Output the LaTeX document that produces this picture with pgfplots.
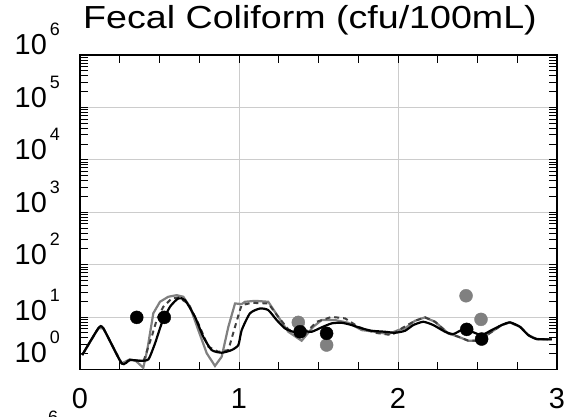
\documentclass[border=0pt]{standalone}
\usepackage{pgfplots}
\pgfplotsset{compat=1.18}
\usepackage{fontspec}
\setmainfont{Liberation Sans}
\newcommand\tp[1]{10\hspace{3bp}\raisebox{19bp}{\fontsize{18}{18}\selectfont #1}}
\begin{document}
\begin{tikzpicture}
\begin{axis}[
  scale only axis, width=477bp, height=314.5bp,
  xmin=0, xmax=3, ymin=1, ymax=1e6, ymode=log,
  xtick={0,1,2,3}, minor x tick num=3,
  xticklabels={0,1,2,3},
  ytick={1,10,100,1000,10000,100000,1000000},
  yticklabels={\raisebox{7bp}{\tp{0}},\raisebox{-3bp}{\tp{1}},\tp{2},\tp{3},\tp{4},\tp{5},\tp{6}},
  grid=major, major grid style={black!20, line width=0.8bp},
  axis line style={line width=1.2bp},
  tick style={black, line width=1bp},
  major tick length=8bp, minor tick length=8bp,
  ticklabel style={font=\fontsize{29}{29}\selectfont, inner sep=0pt},
  yticklabel style={anchor=base east, xshift=-20bp},
  xticklabel style={anchor=north, yshift=-18.5bp},
]
\addplot[gray, line width=2.2bp] coordinates {
(0.014,1.89) (0.115,6.09) (0.147,6.09) (0.262,1.31) (0.314,1.56) (0.352,1.45) (0.398,1.08) (0.423,2.35) (0.461,11.8) (0.503,19.6) (0.555,24.4) (0.608,26.2) (0.650,24.4) (0.692,15.7) (0.744,5.65) (0.797,2.04) (0.849,1.17) (0.891,1.75) (0.933,6.53) (0.975,18.2) (1.017,17.7) (1.038,19.6) (1.101,20.4) (1.184,19.6) (1.247,10.1) (1.310,5.25) (1.394,3.54) (1.467,6.53) (1.520,8.77) (1.604,8.77) (1.687,7.79) (1.772,5.65) (1.855,5.25) (1.939,4.74) (2.002,5.65) (2.044,6.09) (2.107,8.51) (2.170,9.87) (2.233,8.14) (2.316,4.89) (2.379,4.22) (2.442,3.54) (2.505,3.54) (2.568,4.74) (2.652,7.04) (2.704,7.93) (2.767,6.53) (2.819,4.54) (2.872,3.81) (2.967,3.76)
};
\addplot[black!75, line width=2bp, dash pattern=on 5bp off 4bp] coordinates {
(0.014,1.89) (0.115,6.09) (0.147,6.09) (0.262,1.31) (0.314,1.52) (0.377,1.47) (0.398,1.40) (0.451,4.22) (0.482,8.77) (0.524,15.7) (0.577,22.7) (0.618,23.7) (0.681,18.2) (0.744,7.59) (0.807,2.72) (0.870,2.18) (0.933,2.35) (0.975,6.53) (1.006,13.6) (1.017,16.9) (1.080,18.7) (1.184,18.2) (1.247,10.1) (1.310,5.83) (1.373,4.89) (1.436,5.65) (1.489,8.14) (1.583,10.1) (1.667,9.44) (1.750,6.53) (1.855,5.02) (1.960,4.54) (2.023,6.09) (2.107,8.51) (2.170,9.87) (2.233,8.14) (2.316,4.89) (2.379,4.22) (2.442,3.54) (2.505,3.54) (2.568,4.74) (2.652,7.04) (2.704,7.93) (2.767,6.53) (2.819,4.54) (2.872,3.81) (2.967,3.76)
};
\addplot[black, line width=2.2bp, smooth, tension=0.35] coordinates {
(0.014,1.89) (0.115,6.09) (0.147,6.09) (0.262,1.31) (0.314,1.52) (0.377,1.47) (0.430,1.56) (0.472,3.16) (0.514,7.59) (0.566,15.7) (0.618,22.7) (0.660,21.1) (0.723,10.1) (0.775,4.22) (0.828,2.35) (0.891,2.09) (0.954,2.35) (0.996,2.93) (1.017,5.65) (1.069,11.8) (1.132,14.6) (1.184,13.6) (1.237,8.77) (1.289,6.09) (1.341,5.25) (1.404,5.41) (1.457,5.25) (1.520,6.37) (1.583,7.59) (1.646,7.79) (1.709,7.04) (1.772,6.09) (1.835,5.48) (1.918,5.25) (1.981,5.02) (2.044,5.48) (2.096,7.04) (2.159,8.14) (2.222,7.04) (2.296,5.25) (2.348,4.74) (2.401,5.65) (2.464,5.25) (2.526,4.54) (2.589,5.65) (2.652,7.04) (2.704,7.93) (2.767,6.53) (2.819,4.54) (2.872,3.81) (2.967,3.76)
};
\addplot[only marks, mark=*, mark size=6.5bp, gray, mark options={fill=gray, draw=gray}] coordinates {
(1.373,7.93) (1.551,2.93) (2.428,25.5) (2.522,9.04)
};
\addplot[only marks, mark=*, mark size=6.5bp, black, mark options={fill=black}] coordinates {
(0.357,9.87) (0.530,9.87) (1.384,5.25) (1.551,4.9) (2.432,5.83) (2.526,3.81)
};
\coordinate (sw) at (rel axis cs:0,0);
\coordinate (ne) at (rel axis cs:1,1);
\coordinate (nw) at (rel axis cs:0,1);
\end{axis}
\node[anchor=base west, inner sep=0pt, font=\fontsize{32}{32}\selectfont] at ([xshift=3bp,yshift=26bp]nw) {\scalebox{1.18}[1]{Fecal Coliform (cfu/100mL)}};
\node[anchor=base west, inner sep=0pt, font=\fontsize{18}{18}\selectfont] at ([xshift=-32bp,yshift=-53.5bp]sw) {6};
\pgfresetboundingbox
\path[use as bounding box] ([xshift=-80bp,yshift=-47.5bp]sw) rectangle ([xshift=8bp,yshift=55bp]ne);
\end{tikzpicture}
\end{document}
